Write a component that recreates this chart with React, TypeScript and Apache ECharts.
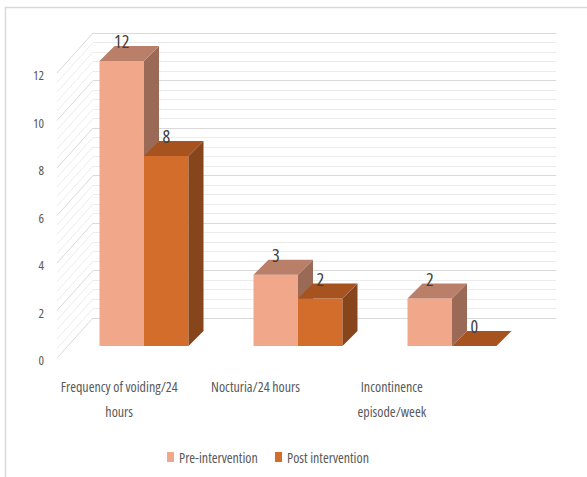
import React, { useEffect, useRef } from "react";
import * as echarts from "echarts";

// Outcome measures before and after the intervention
const categories = [
  "Frequency of voiding/24\nhours",
  "Nocturia/24 hours",
  "Incontinence\nepisode/week",
];
const preIntervention = [12, 3, 2];
const postIntervention = [8, 2, 0];
const seriesNames = ["Pre-intervention", "Post intervention"];

const Y_MIN = 0;
const Y_MAX = 12;
const Y_STEP = 2;

// condensed Open Sans for the narrow chart lettering
const NARROW_FAMILY = "'Open Sans';font-stretch:75%";
const narrowFont = (size: number) => `condensed ${size}px 'Open Sans'`;

// pseudo-3D geometry (pixels)
const BAR_RATIO = 0.289; // bar width as a share of the category band
const DEPTH_X = 15;
const DEPTH_Y = 15;
const WALL_DX = -36; // side wall: back edge to front edge
const WALL_DY = 40;

const palette = {
  pre: { front: "#F1A88A", top: "#B97F68", side: "#9B6A56" },
  post: { front: "#D36D2B", top: "#A6531F", side: "#87451B" },
};

type Faces = { front: string; top: string; side: string };

function makeBarRenderer(leftOfCenter: boolean, faces: Faces) {
  return (_params: any, api: any) => {
    const cat = api.value(0);
    const v = api.value(1);
    const base = api.coord([cat, 0]);
    const top = api.coord([cat, v]);
    const band = api.size([1, 0])[0];
    const w = band * BAR_RATIO;
    const x0 = leftOfCenter ? base[0] - w : base[0];
    const x1 = x0 + w;
    const yB = base[1];
    const yT = top[1];
    return {
      type: "group",
      children: [
        {
          type: "polygon",
          shape: { points: [[x0, yT], [x1, yT], [x1, yB], [x0, yB]] },
          style: { fill: faces.front },
        },
        {
          type: "polygon",
          shape: {
            points: [
              [x1, yT],
              [x1 + DEPTH_X, yT - DEPTH_Y],
              [x1 + DEPTH_X, yB - DEPTH_Y],
              [x1, yB],
            ],
          },
          style: { fill: faces.side },
        },
        {
          type: "polygon",
          shape: {
            points: [
              [x0, yT],
              [x1, yT],
              [x1 + DEPTH_X, yT - DEPTH_Y],
              [x0 + DEPTH_X, yT - DEPTH_Y],
            ],
          },
          style: { fill: faces.top },
        },
        {
          type: "text",
          x: (x0 + x1) / 2,
          y: yT - DEPTH_Y - 5,
          style: {
            text: String(v),
            fill: "#404040",
            font: narrowFont(18),
            textAlign: "center",
            textVerticalAlign: "middle",
          },
        },
      ],
    };
  };
}

// diagonal lines of the left side wall, one per gridline of the back wall
function renderSideWall(_params: any, api: any) {
  const children: any[] = [];
  const minorStep = Y_STEP / 5;
  const count = Math.round((Y_MAX - Y_MIN) / minorStep);
  for (let i = 0; i <= count; i++) {
    const v = Y_MIN + i * minorStep;
    const p = api.coord([0, v]);
    const major = i % 5 === 0;
    children.push({
      type: "line",
      shape: { x1: p[0], y1: p[1], x2: p[0] + WALL_DX, y2: p[1] + WALL_DY },
      style: { stroke: major ? "#d9d9d9" : "#ececec", lineWidth: 1 },
    });
  }
  return { type: "group", children };
}

const legendText = {
  fontFamily: NARROW_FAMILY,
  fontSize: 14,
  color: "#595959",
};

export default function App() {
  const ref = useRef<HTMLDivElement>(null);

  useEffect(() => {
    if (!ref.current) return;
    const chart = echarts.init(ref.current, undefined, { renderer: "svg" });
    const idx = categories.map((_, i) => i);

    chart.setOption({
      animation: false,
      backgroundColor: "#ffffff",
      graphic: [
        {
          type: "polyline",
          shape: { points: [[5.5, 477], [5.5, 7.5], [587, 7.5]] },
          style: { stroke: "#d9d9d9", lineWidth: 1.5, fill: "none" },
          silent: true,
        },
      ],
      legend: [
        {
          data: [seriesNames[0]],
          left: 167,
          top: 452,
          padding: 0,
          itemWidth: 7,
          itemHeight: 10,
          icon: "rect",
          textStyle: legendText,
        },
        {
          data: [seriesNames[1]],
          left: 275,
          top: 452,
          padding: 0,
          itemWidth: 7,
          itemHeight: 10,
          icon: "rect",
          textStyle: legendText,
        },
      ],
      grid: [
        // bars (front plane of the bars)
        { left: 67, right: 58, top: 61, bottom: 131 },
        // back wall
        { left: 93, right: 31, top: 33, bottom: 159 },
        // value labels on the front edge
        { left: 52, right: 58, top: 75, bottom: 117 },
        // category labels
        { left: 51, right: 127, top: 75, bottom: 111 },
      ],
      xAxis: [
        { gridIndex: 0, type: "category", data: categories, show: false },
        { gridIndex: 1, type: "value", min: 0, max: 1, show: false },
        { gridIndex: 2, type: "value", min: 0, max: 1, show: false },
        {
          gridIndex: 3,
          type: "category",
          data: categories,
          axisLine: { show: false },
          axisTick: { show: false },
          axisLabel: {
            margin: 8,
            fontFamily: NARROW_FAMILY,
            fontSize: 14,
            lineHeight: 25,
            color: "#595959",
            interval: 0,
          },
        },
      ],
      yAxis: [
        { gridIndex: 0, type: "value", min: Y_MIN, max: Y_MAX, interval: Y_STEP, show: false },
        {
          gridIndex: 1,
          type: "value",
          min: Y_MIN,
          max: Y_MAX,
          interval: Y_STEP,
          axisLine: { show: false },
          axisTick: { show: false },
          axisLabel: { show: false },
          splitLine: { show: true, lineStyle: { color: "#d9d9d9", width: 1 } },
          minorTick: { show: false, splitNumber: 5 },
          minorSplitLine: { show: true, lineStyle: { color: "#ececec", width: 1 } },
        },
        {
          gridIndex: 2,
          type: "value",
          min: Y_MIN,
          max: Y_MAX,
          interval: Y_STEP,
          axisLine: { show: false },
          axisTick: { show: false },
          splitLine: { show: false },
          axisLabel: { margin: 8, fontFamily: NARROW_FAMILY, fontSize: 13, color: "#595959" },
        },
        { gridIndex: 3, type: "value", show: false },
      ],
      series: [
        {
          type: "custom",
          name: "sideWall",
          xAxisIndex: 1,
          yAxisIndex: 1,
          silent: true,
          data: [[0, 0]],
          renderItem: renderSideWall,
        },
        {
          type: "custom",
          name: seriesNames[0],
          xAxisIndex: 0,
          yAxisIndex: 0,
          itemStyle: { color: palette.pre.front },
          encode: { x: 0, y: 1 },
          data: idx.map((i) => [i, preIntervention[i]]),
          renderItem: makeBarRenderer(true, palette.pre),
        },
        {
          type: "custom",
          name: seriesNames[1],
          xAxisIndex: 0,
          yAxisIndex: 0,
          itemStyle: { color: palette.post.front },
          encode: { x: 0, y: 1 },
          data: idx.map((i) => [i, postIntervention[i]]),
          renderItem: makeBarRenderer(false, palette.post),
        },
      ],
    });

    return () => chart.dispose();
  }, []);

  return (
    <div
      ref={ref}
      style={{ position: "fixed", left: 0, top: 0, width: 587, height: 477 }}
    />
  );
}
